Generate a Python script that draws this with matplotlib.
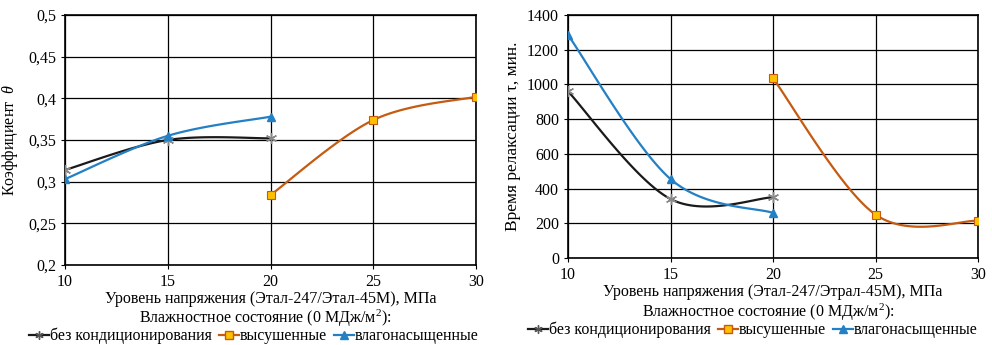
import numpy as np
import matplotlib
matplotlib.use('Agg')
import matplotlib.pyplot as plt
from matplotlib.ticker import FuncFormatter, MultipleLocator

plt.rcParams['font.family'] = ['Liberation Serif', 'DejaVu Serif']
plt.rcParams['mathtext.fontset'] = 'custom'
plt.rcParams['mathtext.it'] = 'Liberation Serif:italic'
plt.rcParams['mathtext.rm'] = 'Liberation Serif'

# данные
x_short = [10, 15, 20]
x_long = [20, 25, 30]

theta_bez = [0.314, 0.350, 0.352]
theta_vys = [0.284, 0.374, 0.402]
theta_vlag = [0.303, 0.355, 0.378]

tau_bez = [960, 340, 350]
tau_vys = [1035, 250, 215]
tau_vlag = [1285, 455, 260]

names = ['без кондиционирования', 'высушенные', 'влагонасыщенные']
leg_title = 'Влажностное состояние (0 МДж/м$^2$):'

BLACK = '#1a1a1a'
ORANGE = '#C55A11'
BLUE = '#2380C4'
FS = 11.5


def smooth(xs, ys, n=40):
    # сглаживание как в Excel (кривые Безье)
    p = np.column_stack([xs, ys]).astype(float)
    pts = np.vstack([p[0], p, p[-1]])
    out = []
    t = np.linspace(0, 1, n)[:, None]
    for i in range(1, len(pts) - 2):
        p0, p1 = pts[i], pts[i + 1]
        c1 = p0 + (pts[i + 1] - pts[i - 1]) / 6
        c2 = p1 - (pts[i + 2] - pts[i]) / 6
        seg = (1 - t) ** 3 * p0 + 3 * (1 - t) ** 2 * t * c1 + 3 * (1 - t) * t ** 2 * c2 + t ** 3 * p1
        out.append(seg)
    seg = np.vstack(out)
    return seg[:, 0], seg[:, 1]


def draw(ax, s_bez, s_vys, s_vlag):
    sx, sy = smooth(x_short, s_bez)
    ax.plot(sx, sy, color=BLACK, lw=1.6, zorder=3)
    ax.plot(x_short, s_bez, ls='none', marker=(6, 2, 0), ms=8, mec='#888888', mew=1, zorder=4)
    sx, sy = smooth(x_long, s_vys)
    ax.plot(sx, sy, color=ORANGE, lw=1.6, zorder=3)
    ax.plot(x_long, s_vys, ls='none', marker='s', ms=6, mfc='#FFC000', mec=ORANGE, mew=0.8, zorder=4)
    sx, sy = smooth(x_short, s_vlag)
    ax.plot(sx, sy, color=BLUE, lw=1.6, zorder=3)
    ax.plot(x_short, s_vlag, ls='none', marker='^', ms=6, mfc=BLUE, mec=BLUE, zorder=4)

    h1 = ax.plot([], [], color=BLACK, lw=1.6, marker=(6, 2, 0), ms=6, mec='#555555')[0]
    h2 = ax.plot([], [], color=ORANGE, lw=1.6, marker='s', ms=5.5, mfc='#FFC000', mec=ORANGE)[0]
    h3 = ax.plot([], [], color=BLUE, lw=1.6, marker='^', ms=5.5, mfc=BLUE, mec=BLUE)[0]

    ax.set_xlim(10, 30)
    ax.xaxis.set_major_locator(MultipleLocator(5))
    ax.grid(True, color='black', lw=0.9)
    ax.set_axisbelow(True)
    for sp in ax.spines.values():
        sp.set_color('black')
        sp.set_linewidth(1.2)
    ax.tick_params(labelsize=FS, length=3, color='black')
    return [h1, h2, h3]


def add_legend(fig, hs, x_title, y_title, x_leg, y_leg):
    fig.text(x_title, y_title, leg_title, ha='center', va='center', fontsize=FS)
    fig.legend(hs, names, loc='center', bbox_to_anchor=(x_leg, y_leg), ncol=3, frameon=False,
               fontsize=FS, handlelength=1.25, handletextpad=0.05, columnspacing=0.45,
               borderpad=0, borderaxespad=0)


fig = plt.figure(figsize=(9.92, 3.45), dpi=100)

ax1 = fig.add_axes([0.0655, 0.232, 0.4145, 0.7245])
hs = draw(ax1, theta_bez, theta_vys, theta_vlag)
ax1.set_ylim(0.2, 0.5)
ax1.yaxis.set_major_locator(MultipleLocator(0.05))
ax1.yaxis.set_major_formatter(FuncFormatter(lambda v, p: ('%g' % round(v, 2)).replace('.', ',')))
ax1.set_xlabel('Уровень напряжения (Этал-247/Этал-45М), МПа', fontsize=FS, labelpad=1)
ax1.set_ylabel('Коэффициент  $\\mathit{\\theta}$', fontsize=FS, labelpad=6)
add_legend(fig, hs, 265 / 992, 1 - 318 / 345, 254 / 992, 1 - 336 / 345)

ax2 = fig.add_axes([0.5726, 0.252, 0.4134, 0.7045])
hs = draw(ax2, tau_bez, tau_vys, tau_vlag)
ax2.set_ylim(0, 1400)
ax2.yaxis.set_major_locator(MultipleLocator(200))
ax2.set_xlabel('Уровень напряжения (Этал-247/Этрал-45М), МПа', fontsize=FS, labelpad=1)
ax2.set_ylabel('Время релаксации τ, мин.', fontsize=12.5, labelpad=4)
add_legend(fig, hs, 768 / 992, 1 - 312 / 345, 753 / 992, 1 - 330 / 345)

fig.savefig('out.png', dpi=100)
